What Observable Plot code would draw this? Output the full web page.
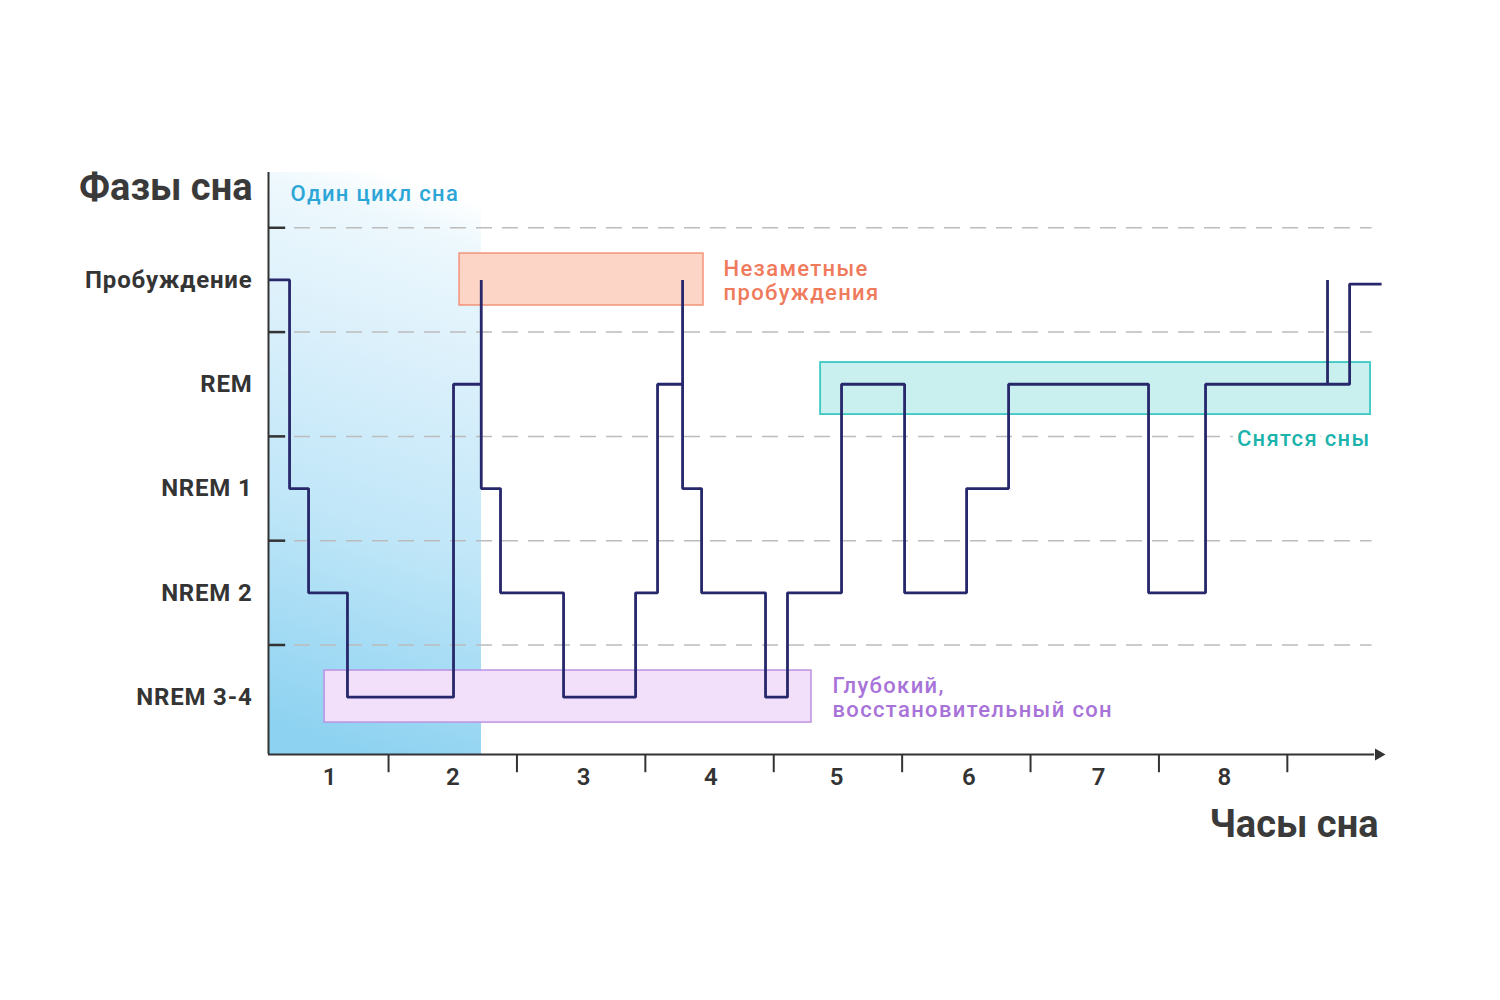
<!DOCTYPE html>
<html>
<head>
<meta charset="utf-8">
<script src="https://cdn.jsdelivr.net/npm/d3@7"></script>
<script src="https://cdn.jsdelivr.net/npm/@observablehq/plot@0.6"></script>
<style>
  html, body { margin: 0; padding: 0; background: #fff; overflow: hidden; }
</style>
</head>
<body>
<div id="chart"></div>
<script>
// ---- Data ----
const stageNames = ["NREM 3-4", "NREM 2", "NREM 1", "REM", "Пробуждение"];
const stageLevels = [0, 1, 2, 3, 4];
const stageBoundaries = [0.5, 1.5, 2.5, 3.5, 4.5];

const hourTicks = [1, 2, 3, 4, 5, 6, 7, 8];
const hourLabels = ["1", "2", "3", "4", "5", "6", "7", "8"];
const hourLabelPos = [0.54, 1.5, 2.52, 3.51, 4.49, 5.52, 6.53, 7.51];

// hypnogram (hours since start, stage level) — step-after
const hypnoTime  = [0.065, 0.229, 0.377, 0.680, 1.506, 1.722, 1.722, 1.872, 2.363, 2.924, 3.095, 3.290, 3.290, 3.438, 3.936, 4.107, 4.528, 5.019, 5.502, 5.829, 6.919, 7.363, 8.313, 8.313, 8.485, 8.734];
const hypnoStage = [4,     2,     1,     0,     3,     4,     2,     1,     0,     1,     3,     4,     2,     1,     0,     1,     3,     1,     2,     3,     1,     3,     4,     3,     3.96,  3.96];

// annotation boxes
const boxNames  = ["cycle", "awake", "dreams", "deep"];
const boxX1     = [0.065, 1.553, 4.365, 0.502];
const boxX2     = [1.724, 3.453, 8.648, 4.294];
const boxY1     = [-0.55, 3.755, 2.709, -0.244];
const boxY2     = [5.03,  4.253, 3.208, 0.255];

const xStart = 0.065, xEnd = 8.71, yBottom = -0.55, yTop = 5.03;

// ---- Build tables ----
const hypno = hypnoTime.map((t, i) => ({t, s: hypnoStage[i]}));
const stages = stageNames.map((n, i) => ({name: n, level: stageLevels[i]}));
const hours = hourLabels.map((l, i) => ({label: l, pos: hourLabelPos[i]}));
const boxes = boxNames.map((n, i) => ({name: n, x1: boxX1[i], x2: boxX2[i], y1: boxY1[i], y2: boxY2[i]}));
const box = n => boxes.filter(b => b.name === n);

const dark = "#333333";
const stageColor = "#343434";
const annoFont = {fontSize: 22, fontWeight: 500};
const annoColors = ["#2ba6d6", "#f07a5c", "#1db3ad", "#a873d8"];

const chart = Plot.plot({
  width: 1500,
  height: 1000,
  marginLeft: 268,
  marginRight: 122,
  marginTop: 172,
  marginBottom: 246,
  x: {type: "linear", domain: [xStart, xEnd], axis: null},
  y: {type: "linear", domain: [yBottom, yTop], axis: null},
  style: {fontFamily: "Roboto, 'Noto Sans', sans-serif", fontSize: "22px", background: "#fff", overflow: "visible"},
  marks: [
    // cycle gradient band
    Plot.rect(box("cycle"), {x1: "x1", x2: "x2", y1: "y1", y2: "y2", fill: "url(#cycleGrad)"}),
    // dashed stage boundaries
    Plot.ruleY(stageBoundaries, {y: d => d, x1: xStart, x2: 8.66, stroke: "#bcbcbc", strokeWidth: 1.5, strokeDasharray: "16,10"}),
    // annotation boxes
    Plot.rect(box("awake"), {x1: "x1", x2: "x2", y1: "y1", y2: "y2", fill: "#fdd5c7", stroke: "#f3937a", strokeWidth: 1.5}),
    Plot.rect(box("dreams"), {x1: "x1", x2: "x2", y1: "y1", y2: "y2", fill: "#c9f0ee", stroke: "#3cc8c3", strokeWidth: 1.8}),
    Plot.rect(box("deep"), {x1: "x1", x2: "x2", y1: "y1", y2: "y2", fill: "#f2e0fa", stroke: "#bb92e3", strokeWidth: 1.5}),
    // hypnogram
    Plot.line(hypno, {x: "t", y: "s", curve: "step-after", stroke: "#27276b", strokeWidth: 2.8, strokeLinejoin: "miter", strokeLinecap: "butt"}),
    // axes
    Plot.ruleX([xStart], {x: d => d, y1: yBottom, y2: yTop, stroke: dark, strokeWidth: 2}),
    Plot.ruleY([yBottom], {y: d => d, x1: xStart, x2: xEnd - 0.03, stroke: dark, strokeWidth: 2}),
    Plot.dot([{x: xEnd, y: yBottom}], {x: "x", y: "y", symbol: "triangle", rotate: 90, r: 4.5, fill: dark}),
    Plot.link(stageBoundaries, {x1: xStart, x2: xStart + 0.13, y1: d => d, y2: d => d, stroke: dark, strokeWidth: 2.5}),
    Plot.link(hourTicks, {x1: d => d, x2: d => d, y1: yBottom, y2: yBottom - 0.17, stroke: dark, strokeWidth: 2}),
    // hour labels
    Plot.text(hours, {x: "pos", y: yBottom, text: "label", dy: 23, fill: dark, fontSize: 24, fontWeight: 600}),
    // stage labels
    Plot.text(stages, {x: xStart, y: "level", text: "name", dx: -16, textAnchor: "end", fill: stageColor, fontSize: 24, fontWeight: 700}),
    // titles
    Plot.text(["Фазы сна"], {x: xStart, y: 4.88, text: d => d, dx: -16, textAnchor: "end", fill: "#3a3a3a", fontSize: 38, fontWeight: 700}),
    Plot.text(["Часы сна"], {x: xEnd, y: -1.22, text: d => d, textAnchor: "end", fill: "#3a3a3a", fontSize: 38, fontWeight: 700}),
    // annotation labels
    Plot.text(["Один цикл сна"], {x: xStart, y: 4.82, text: d => d, dx: 22, textAnchor: "start", fill: annoColors[0], ...annoFont}),
    Plot.text(["Незаметные\nпробуждения"], {x: box("awake")[0].x2, y: 4.0, text: d => d, dx: 20, textAnchor: "start", fill: annoColors[1], lineHeight: 1.1, ...annoFont}),
    Plot.text(["Снятся сны"], {x: box("dreams")[0].x2, y: 2.48, text: d => d, textAnchor: "end", fill: annoColors[2], stroke: "#fff", strokeWidth: 10, ...annoFont}),
    Plot.text(["Глубокий,\nвосстановительный сон"], {x: box("deep")[0].x2, y: 0.0, text: d => d, dx: 21, textAnchor: "start", fill: annoColors[3], lineHeight: 1.08, ...annoFont})
  ]
});

const svg = d3.select(chart);

// letter spacing (Plot's text mark has no option for it)
svg.selectAll("g[aria-label='text']").each(function() {
  const fill = (this.getAttribute("fill") || "").toLowerCase();
  if (annoColors.includes(fill)) this.style.letterSpacing = "1.35px";
  else if (fill === stageColor) this.style.letterSpacing = "0.8px";
});

// gradient definition for the cycle band
const defs = svg.insert("defs", ":first-child");
const g = defs.append("linearGradient").attr("id", "cycleGrad")
  .attr("x1", 0.56).attr("y1", 0).attr("x2", 0.44).attr("y2", 1);
g.append("stop").attr("offset", "0%").attr("stop-color", "#ffffff");
g.append("stop").attr("offset", "8%").attr("stop-color", "#edf8fd");
g.append("stop").attr("offset", "30%").attr("stop-color", "#dbf0fb");
g.append("stop").attr("offset", "62%").attr("stop-color", "#bfe6f8");
g.append("stop").attr("offset", "100%").attr("stop-color", "#8dd2f1");

document.getElementById("chart").appendChild(chart);
</script>
</body>
</html>
